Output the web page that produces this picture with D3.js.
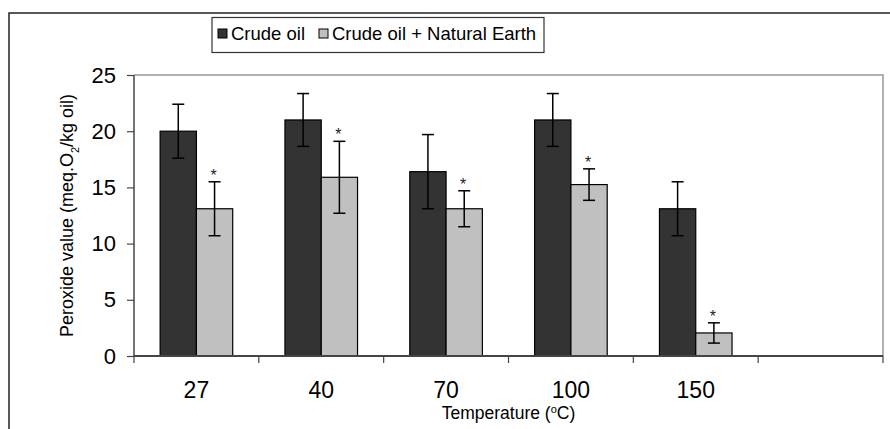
<!DOCTYPE html>
<html>
<head>
<meta charset="utf-8">
<script src="https://cdn.jsdelivr.net/npm/d3@7"></script>
<style>
  body { margin: 0; background: #fff; }
  svg { display: block; font-family: "Liberation Sans", Arial, sans-serif; }
</style>
</head>
<body>
<svg width="890" height="429"></svg>
<script>
// temperatures (last slot is empty in the original sheet)
var temps = ["27", "40", "70", "100", "150", ""];
var seriesNames = ["Crude oil", "Crude oil + Natural Earth"];
var seriesColors = ["#333333", "#c0c0c0"];

var crude = [20.0, 21.0, 16.4, 21.0, 13.1];
var crudeErr = [2.4, 2.35, 3.3, 2.35, 2.4];
var earth = [13.1, 15.9, 13.1, 15.25, 2.05];
var earthErr = [2.4, 3.2, 1.6, 1.4, 0.9];
var earthStar = [true, true, true, true, true];

var yTicks = [0, 5, 10, 15, 20, 25];

draw();

function draw() {
  var svg = d3.select("svg");

  // outer chart frame
  svg.append("rect")
    .attr("x", 9).attr("y", 13)
    .attr("width", 1000).attr("height", 600)
    .attr("fill", "none")
    .attr("stroke", "#222")
    .attr("stroke-width", 1.5);

  var pLeft = 134, pRight = 883, pTop = 75, pBottom = 356;

  var x0 = d3.scaleBand().domain(temps).range([pLeft, pRight]).padding(0);
  var x1 = d3.scaleBand().domain(seriesNames).range([0, x0.bandwidth()]).paddingInner(0).paddingOuter(0.72);
  var y = d3.scaleLinear().domain([0, 25]).range([pBottom, pTop]);

  // plot area border (top and right)
  svg.append("path")
    .attr("d", "M" + pLeft + "," + pTop + "H" + pRight + "V" + pBottom)
    .attr("fill", "none")
    .attr("stroke", "#999")
    .attr("stroke-width", 1.5);

  var rows = [];
  for (var i = 0; i < crude.length; i++) {
    rows.push({ temp: temps[i], series: seriesNames[0], v: crude[i], e: crudeErr[i], star: false, color: seriesColors[0] });
    rows.push({ temp: temps[i], series: seriesNames[1], v: earth[i], e: earthErr[i], star: earthStar[i], color: seriesColors[1] });
  }

  var g = svg.append("g");

  g.selectAll(".bar")
    .data(rows)
    .enter().append("rect")
    .attr("class", "bar")
    .attr("x", function(d) { return x0(d.temp) + x1(d.series); })
    .attr("y", function(d) { return y(d.v); })
    .attr("width", x1.bandwidth())
    .attr("height", function(d) { return y(0) - y(d.v); })
    .attr("fill", function(d) { return d.color; })
    .attr("stroke", "#000")
    .attr("stroke-width", 1.2);

  // error bars
  var eb = g.selectAll(".err")
    .data(rows)
    .enter().append("g")
    .attr("class", "err")
    .attr("transform", function(d) { return "translate(" + (x0(d.temp) + x1(d.series) + x1.bandwidth() / 2) + ",0)"; });

  eb.append("line")
    .attr("x1", 0).attr("x2", 0)
    .attr("y1", function(d) { return y(d.v + d.e); })
    .attr("y2", function(d) { return y(d.v - d.e); })
    .attr("stroke", "#000").attr("stroke-width", 1.5);

  eb.append("line")
    .attr("x1", -6).attr("x2", 6)
    .attr("y1", function(d) { return y(d.v + d.e); })
    .attr("y2", function(d) { return y(d.v + d.e); })
    .attr("stroke", "#000").attr("stroke-width", 1.5);

  eb.append("line")
    .attr("x1", -6).attr("x2", 6)
    .attr("y1", function(d) { return y(d.v - d.e); })
    .attr("y2", function(d) { return y(d.v - d.e); })
    .attr("stroke", "#000").attr("stroke-width", 1.5);

  eb.filter(function(d) { return d.star; })
    .append("text")
    .attr("x", -1)
    .attr("y", function(d) { return y(d.v + d.e) - 1; })
    .attr("text-anchor", "middle")
    .attr("font-size", 16)
    .attr("fill", "#222")
    .text("*");

  // y axis
  var yAxis = svg.append("g")
    .attr("transform", "translate(" + pLeft + ",0)")
    .call(d3.axisLeft(y).tickValues(yTicks).tickSize(7).tickPadding(11));
  yAxis.selectAll("text").attr("font-size", 22).attr("fill", "#000").attr("font-family", "Liberation Sans, Arial, sans-serif");
  yAxis.selectAll("line").attr("stroke", "#444").attr("stroke-width", 1.2);
  yAxis.select(".domain").attr("stroke", "#444").attr("stroke-width", 1.5).attr("d", "M0," + pTop + "V" + pBottom);

  // x axis: labels centred, ticks on category boundaries
  var xAxis = svg.append("g")
    .attr("transform", "translate(0," + pBottom + ")")
    .call(d3.axisBottom(x0).tickSize(0).tickPadding(26));
  xAxis.selectAll("text").attr("font-size", 23).attr("fill", "#000").attr("font-family", "Liberation Sans, Arial, sans-serif");
  xAxis.select(".domain").attr("stroke", "#444").attr("stroke-width", 2).attr("d", "M" + pLeft + ",0H" + pRight);

  var bounds = temps.map(function(t) { return x0(t); }).concat([x0(temps[temps.length - 1]) + x0.step()]);
  xAxis.selectAll(".bound")
    .data(bounds)
    .enter().append("line")
    .attr("class", "bound")
    .attr("x1", function(d) { return d; })
    .attr("x2", function(d) { return d; })
    .attr("y1", 0).attr("y2", 7)
    .attr("stroke", "#444").attr("stroke-width", 1.2);

  // axis titles
  svg.append("text")
    .attr("x", (pLeft + pRight) / 2)
    .attr("y", 419)
    .attr("text-anchor", "middle")
    .attr("font-size", 17.5)
    .html('Temperature (<tspan baseline-shift="super" font-size="11">o</tspan>C)');

  svg.append("text")
    .attr("transform", "translate(73," + ((pTop + pBottom) / 2) + ") rotate(-90)")
    .attr("text-anchor", "middle")
    .attr("font-size", 18)
    .html('Peroxide value (meq.O<tspan baseline-shift="sub" font-size="11">2</tspan>/kg oil)');

  // legend
  var legend = svg.append("g");
  legend.append("rect")
    .attr("x", 212).attr("y", 17.5)
    .attr("width", 332).attr("height", 35)
    .attr("fill", "#fff")
    .attr("stroke", "#333")
    .attr("stroke-width", 1.2);

  var legX = [218, 319];
  var items = legend.selectAll(".item")
    .data(seriesNames)
    .enter().append("g")
    .attr("class", "item")
    .attr("transform", function(d, i) { return "translate(" + legX[i] + ",0)"; });

  items.append("rect")
    .attr("x", 0).attr("y", 29)
    .attr("width", 9).attr("height", 9)
    .attr("fill", function(d, i) { return seriesColors[i]; })
    .attr("stroke", "#000")
    .attr("stroke-width", 1);

  items.append("text")
    .attr("x", 13).attr("y", 40)
    .attr("font-size", 18.5)
    .text(function(d) { return d; });
}
</script>
</body>
</html>
